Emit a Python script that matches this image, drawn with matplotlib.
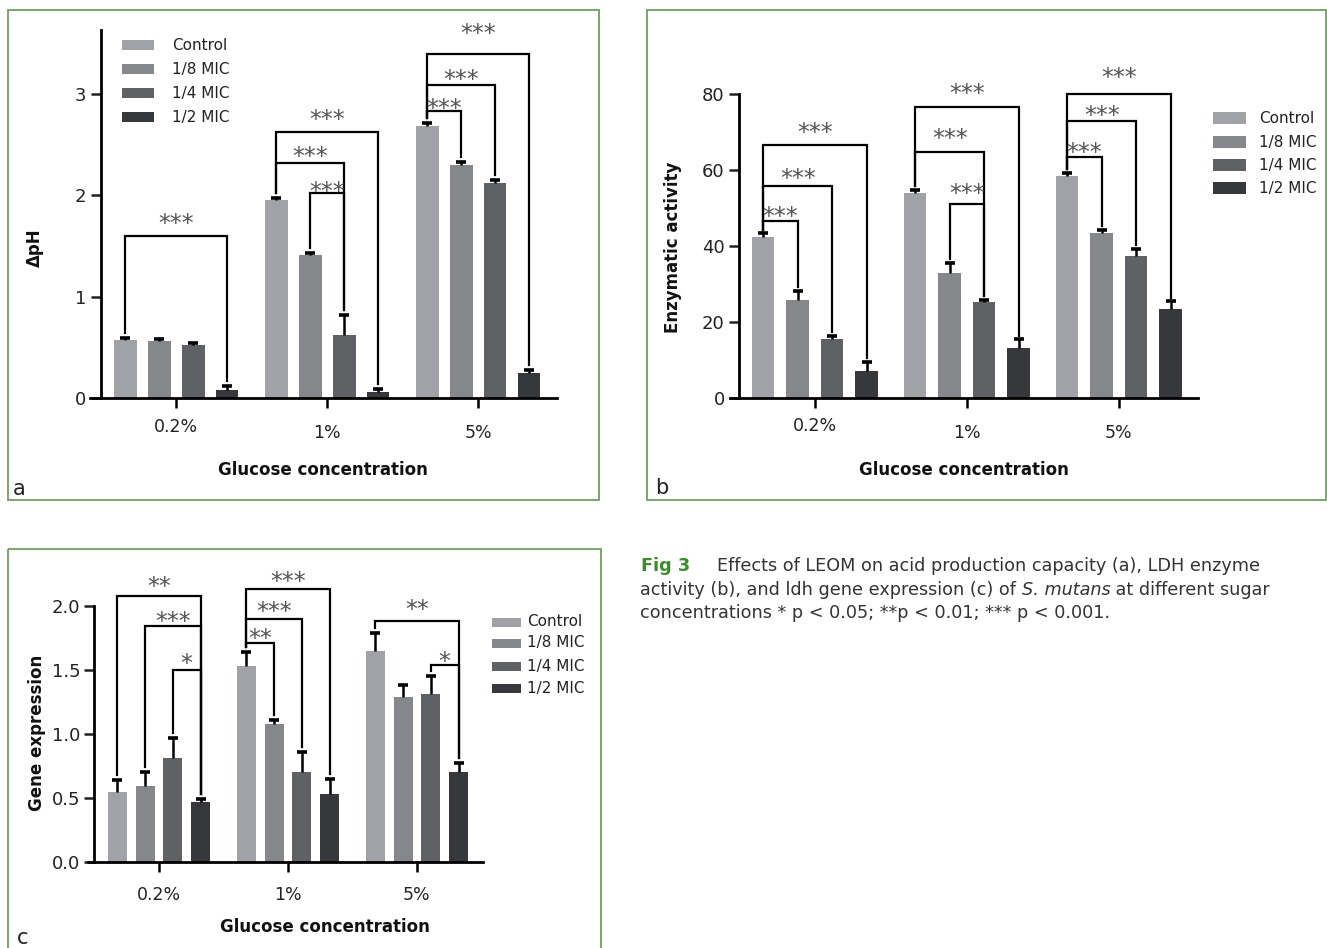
import matplotlib
matplotlib.use('Agg')
import matplotlib.pyplot as plt
from matplotlib.patches import Rectangle
import numpy as np

W, H = 1327, 948

groups = ['0.2%', '1%', '5%']
series = ['Control', '1/8 MIC', '1/4 MIC', '1/2 MIC']
colors = ['#a0a2a7', '#86878b', '#606165', '#36383c']

# ---- panel a : delta pH ----
ph_control = [0.57, 1.95, 2.69]
ph_mic8 = [0.56, 1.41, 2.30]
ph_mic4 = [0.52, 0.62, 2.12]
ph_mic2 = [0.08, 0.06, 0.25]
ph_err_control = [0.02, 0.02, 0.02]
ph_err_mic8 = [0.02, 0.02, 0.03]
ph_err_mic4 = [0.02, 0.20, 0.03]
ph_err_mic2 = [0.04, 0.03, 0.03]
# (group, series i, series j, bracket height, star height, label)
ph_brackets = [
    (0, 0, 3, 1.60, 1.79, '***'),
    (1, 0, 3, 2.63, 2.81, '***'),
    (1, 0, 2, 2.32, 2.45, '***'),
    (1, 1, 2, 2.02, 2.10, '***'),
    (2, 0, 3, 3.40, 3.66, '***'),
    (2, 0, 2, 3.09, 3.21, '***'),
    (2, 0, 1, 2.83, 2.92, '***'),
]

# ---- panel b : enzymatic activity ----
enz_control = [42.5, 54.0, 58.5]
enz_mic8 = [25.8, 33.0, 43.3]
enz_mic4 = [15.5, 25.3, 37.3]
enz_mic2 = [7.0, 13.2, 23.4]
enz_err_control = [0.8, 0.8, 0.8]
enz_err_mic8 = [2.3, 2.6, 1.0]
enz_err_mic4 = [0.8, 0.6, 2.0]
enz_err_mic2 = [2.6, 2.2, 2.0]
enz_brackets = [
    (0, 0, 3, 66.6, 71.6, '***'),
    (0, 0, 2, 55.8, 59.6, '***'),
    (0, 0, 1, 46.6, 49.5, '***'),
    (1, 0, 3, 76.6, 81.9, '***'),
    (1, 0, 2, 64.8, 70.0, '***'),
    (1, 1, 2, 51.0, 55.5, '***'),
    (2, 0, 3, 80.0, 86.0, '***'),
    (2, 0, 2, 73.0, 76.0, '***'),
    (2, 0, 1, 63.5, 66.3, '***'),
]

# ---- panel c : gene expression ----
gene_control = [0.55, 1.53, 1.65]
gene_mic8 = [0.59, 1.08, 1.29]
gene_mic4 = [0.81, 0.70, 1.31]
gene_mic2 = [0.47, 0.53, 0.70]
gene_err_control = [0.09, 0.11, 0.14]
gene_err_mic8 = [0.11, 0.03, 0.09]
gene_err_mic4 = [0.16, 0.16, 0.14]
gene_err_mic2 = [0.02, 0.12, 0.07]
gene_brackets = [
    (0, 0, 3, 2.08, 2.20, '**'),
    (0, 1, 3, 1.84, 1.93, '***'),
    (0, 2, 3, 1.50, 1.60, '*'),
    (1, 0, 3, 2.13, 2.24, '***'),
    (1, 0, 2, 1.90, 2.01, '***'),
    (1, 0, 1, 1.71, 1.80, '**'),
    (2, 0, 3, 1.88, 2.02, '**'),
    (2, 2, 3, 1.54, 1.62, '*'),
]

fig = plt.figure(figsize=(W / 100, H / 100), dpi=100)
fig.patch.set_facecolor('white')

# overlay axes in pixel coordinates (for frames, legends, captions)
ov = fig.add_axes([0, 0, 1, 1], zorder=0)
ov.set_xlim(0, W)
ov.set_ylim(H, 0)
ov.axis('off')
ov.patch.set_alpha(0)

GREEN = '#6f9f62'


def panel(left, right, bottom, ppu, ytop, xlim, means, errs, brackets,
          pitch, width, gap, yticks, ytlabels, spine_top, xlab_offsets):
    top = bottom - ytop * ppu
    ax = fig.add_axes([left / W, 1 - bottom / H, (right - left) / W, (bottom - top) / H], zorder=2)
    ax.patch.set_alpha(0)
    x = np.arange(len(groups))
    for k in range(len(series)):
        xs = x + (k - 1.5) * pitch
        ax.bar(xs, means[k], width, color=colors[k], zorder=2)
        _, caps, _ = ax.errorbar(xs, means[k], yerr=[np.zeros(len(groups)), errs[k]], fmt='none',
                                 ecolor='black', elinewidth=1.8, capsize=3.6, capthick=2.6,
                                 zorder=3)
        caps[0].set_visible(False)
    for g, i, j, yb, ys, lab in brackets:
        xi = g + (i - 1.5) * pitch
        xj = g + (j - 1.5) * pitch
        yi = means[i][g] + errs[i][g] + gap
        yj = means[j][g] + errs[j][g] + gap
        ax.plot([xi, xi, xj, xj], [yi, yb, yb, yj], color='black', lw=1.6,
                clip_on=False, zorder=4, solid_joinstyle='miter')
        ax.annotate(lab, xy=((xi + xj) / 2, ys), xytext=(0, -14), textcoords='offset pixels',
                    ha='center', va='baseline', fontsize=17, color='#555555',
                    annotation_clip=False, zorder=5)
    ax.set_xlim(*xlim)
    ax.set_ylim(0, ytop)
    for s in ['top', 'right']:
        ax.spines[s].set_visible(False)
    ax.spines['left'].set_position(('data', -0.5))
    ax.spines['left'].set_bounds(0, spine_top)
    ax.spines['left'].set_linewidth(2.0)
    ax.spines['bottom'].set_linewidth(2.0)
    ax.set_yticks(yticks)
    ax.set_yticklabels(ytlabels)
    ax.set_xticks(x)
    ax.tick_params(axis='y', length=7.2, width=1.8, pad=3, labelsize=13, colors='#222222')
    ax.tick_params(axis='x', length=7.2, width=1.8, labelbottom=False)
    for gi, lab in enumerate(groups):
        ax.annotate(lab, xy=(gi, 0), xycoords=('data', 'axes fraction'),
                    xytext=(0, -xlab_offsets[gi]), textcoords='offset pixels',
                    ha='center', va='center', fontsize=12.5, color='#222222',
                    annotation_clip=False)
    return ax


panel(90, 557, 398, 101.3, 3.75, (-0.570, 2.523),
      [ph_control, ph_mic8, ph_mic4, ph_mic2],
      [ph_err_control, ph_err_mic8, ph_err_mic4, ph_err_mic2],
      ph_brackets, 0.225, 0.152, 0.05, [0, 1, 2, 3], ['0', '1', '2', '3'], 3.63,
      [29, 35, 35])

panel(730, 1198, 398, 3.8, 92, (-0.559, 2.520),
      [enz_control, enz_mic8, enz_mic4, enz_mic2],
      [enz_err_control, enz_err_mic8, enz_err_mic4, enz_err_mic2],
      enz_brackets, 0.227, 0.148, 1.0, [0, 20, 40, 60, 80], ['0', '20', '40', '60', '80'], 80,
      [28, 35, 35])

panel(88, 483, 862, 128, 2.35, (-0.550, 2.512),
      [gene_control, gene_mic8, gene_mic4, gene_mic2],
      [gene_err_control, gene_err_mic8, gene_err_mic4, gene_err_mic2],
      gene_brackets, 0.215, 0.147, 0.04, [0, 0.5, 1.0, 1.5, 2.0],
      ['0.0', '0.5', '1.0', '1.5', '2.0'], 2.0, [33, 33, 33])

# frames
for (x0, y0, x1, y1) in [(8, 10, 599, 500), (647, 10, 1326, 500), (8, 549, 601, 960)]:
    ov.add_patch(Rectangle((x0, y0), x1 - x0, y1 - y0, fill=False, ec=GREEN, lw=1.3,
                           clip_on=False))

# axis labels
lab_kw = dict(fontsize=12, fontweight='bold', color='#111111', ha='center', va='center')
ov.text(323, 470, 'Glucose concentration', **lab_kw)
ov.text(964, 470, 'Glucose concentration', **lab_kw)
ov.text(325, 927, 'Glucose concentration', **lab_kw)
ov.text(35, 248, 'ΔpH', rotation=90, **lab_kw)
ov.text(673, 247, 'Enzymatic activity', rotation=90, **lab_kw)
ov.text(37, 733, 'Gene expression', rotation=90, **lab_kw)

# panel letters
ov.text(19, 489, 'a', fontsize=15, ha='center', va='center', color='#222222')
ov.text(662, 488, 'b', fontsize=15, ha='center', va='center', color='#222222')
ov.text(23, 938, 'c', fontsize=15, ha='center', va='center', color='#222222')

# legends
def legend(px0, px1, text_x, rows, ph):
    for k, name in enumerate(series):
        ov.add_patch(Rectangle((px0, rows[k] - ph / 2), px1 - px0, ph, fc=colors[k], ec='none'))
        ov.text(text_x, rows[k], name, fontsize=11, ha='left', va='center', color='#222222')


legend(122, 154, 172, [45, 69, 93, 117], 10)
legend(1213, 1246, 1259, [118, 142, 165, 188], 12)
legend(492, 521, 527, [622, 643, 666, 688], 9)

# caption
CS = 12.7
cap_kw = dict(fontsize=CS, color='#333333', va='baseline', ha='left')
ov.text(641, 571, 'Fig 3', fontsize=CS, fontweight='bold', color='#3c8c2c', va='baseline',
        ha='left')
ov.text(717, 571, 'Effects of LEOM on acid production capacity (a), LDH enzyme', **cap_kw)
t1 = ov.text(640, 595, 'activity (b), and ldh gene expression (c) of ', **cap_kw)
t2 = ov.annotate('S. mutans', xy=(1, 0), xycoords=t1, va='bottom', ha='left',
                 fontsize=CS, color='#333333', style='italic')
ov.annotate(' at different sugar', xy=(1, 0), xycoords=t2, va='bottom', ha='left',
            fontsize=CS, color='#333333')
ov.text(640, 618, 'concentrations * p < 0.05; **p < 0.01; *** p < 0.001.', **cap_kw)

fig.savefig('out.png', dpi=100, facecolor='white')
